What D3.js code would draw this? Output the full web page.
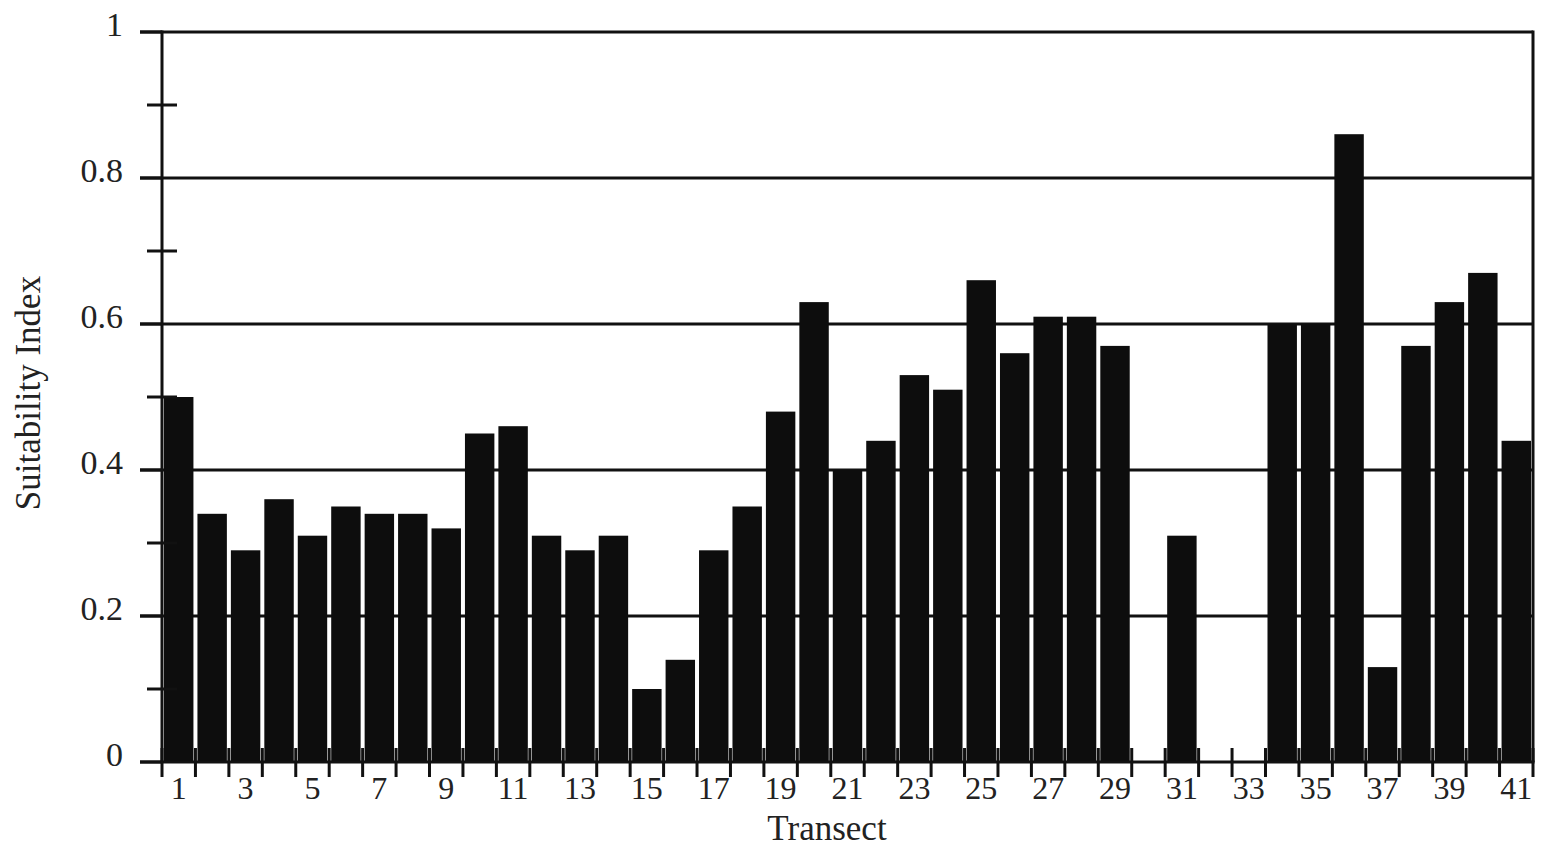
<!DOCTYPE html>
<html>
<head>
<meta charset="utf-8">
<script src="https://cdn.jsdelivr.net/npm/d3@7"></script>
<style>
    html, body { margin: 0; padding: 0; background: #fff; }
    #chart-container { width: 1543px; height: 853px; }
    text { font-family: "Liberation Serif", "Times New Roman", serif; fill: #222; }
</style>
</head>
<body>
<div id="chart-container"></div>
<script>
const transects = d3.range(1, 42);
const suitability = [
    0.50, 0.34, 0.29, 0.36, 0.31, 0.35, 0.34, 0.34, 0.32, 0.45,
    0.46, 0.31, 0.29, 0.31, 0.10, 0.14, 0.29, 0.35, 0.48, 0.63,
    0.40, 0.44, 0.53, 0.51, 0.66, 0.56, 0.61, 0.61, 0.57, 0,
    0.31, 0, 0, 0.60, 0.60, 0.86, 0.13, 0.57, 0.63, 0.67,
    0.44
];
const gridValues = [0.2, 0.4, 0.6, 0.8, 1];
const majorTicks = [0, 0.2, 0.4, 0.6, 0.8, 1];
const minorTicks = [0.1, 0.3, 0.5, 0.7, 0.9];

document.addEventListener('DOMContentLoaded', () => {
    const width = 1543;
    const height = 853;
    const left = 162, right = 1533, top = 32, bottom = 762;

    const data = transects.map((t, i) => ({ t, v: suitability[i] }));

    const svg = d3.select('#chart-container')
        .append('svg')
        .attr('width', width)
        .attr('height', height)
        .style('background-color', '#fff');

    const x = d3.scaleBand()
        .domain(transects)
        .range([left, right])
        .paddingInner(0.12)
        .paddingOuter(0.06);

    const y = d3.scaleLinear()
        .domain([0, 1])
        .range([bottom, top]);

    const lineColor = '#111';
    const lw = 3;

    // gridlines
    svg.append('g')
        .selectAll('line')
        .data(gridValues)
        .enter().append('line')
        .attr('x1', 140)
        .attr('x2', right)
        .attr('y1', d => y(d))
        .attr('y2', d => y(d))
        .attr('stroke', lineColor)
        .attr('stroke-width', lw);

    // bars
    svg.append('g')
        .selectAll('rect')
        .data(data)
        .enter().append('rect')
        .attr('x', d => x(d.t))
        .attr('y', d => y(d.v))
        .attr('width', x.bandwidth())
        .attr('height', d => y(0) - y(d.v))
        .attr('fill', '#0d0d0d');

    // axis frame
    svg.append('line')
        .attr('x1', left).attr('x2', left)
        .attr('y1', top - 1.5).attr('y2', bottom)
        .attr('stroke', lineColor).attr('stroke-width', lw);
    svg.append('line')
        .attr('x1', right).attr('x2', right)
        .attr('y1', top - 1.5).attr('y2', bottom)
        .attr('stroke', lineColor).attr('stroke-width', lw);
    svg.append('line')
        .attr('x1', 140).attr('x2', right + 1.5)
        .attr('y1', bottom).attr('y2', bottom)
        .attr('stroke', lineColor).attr('stroke-width', lw);

    // y ticks
    svg.append('g')
        .selectAll('line')
        .data(majorTicks)
        .enter().append('line')
        .attr('x1', 140).attr('x2', left)
        .attr('y1', d => y(d)).attr('y2', d => y(d))
        .attr('stroke', lineColor).attr('stroke-width', lw);

    svg.append('g')
        .selectAll('line')
        .data(minorTicks)
        .enter().append('line')
        .attr('x1', 147).attr('x2', 177)
        .attr('y1', d => y(d)).attr('y2', d => y(d))
        .attr('stroke', lineColor).attr('stroke-width', lw);

    svg.append('g')
        .selectAll('text')
        .data(majorTicks)
        .enter().append('text')
        .attr('x', 123)
        .attr('y', d => y(d) + 4)
        .attr('text-anchor', 'end')
        .style('font-size', '34px')
        .text(d => d === 0 ? '0' : d === 1 ? '1' : d3.format('.1f')(d));

    // x ticks at band boundaries
    const step = x.step();
    const bounds = d3.range(0, transects.length + 1).map(i => left + i * step);
    svg.append('g')
        .selectAll('line')
        .data(bounds)
        .enter().append('line')
        .attr('x1', d => d).attr('x2', d => d)
        .attr('y1', bottom - 14).attr('y2', bottom + 15)
        .attr('stroke', lineColor).attr('stroke-width', lw);

    svg.append('g')
        .selectAll('text')
        .data(transects.filter(t => t % 2 === 1))
        .enter().append('text')
        .attr('x', d => x(d) + x.bandwidth() / 2)
        .attr('y', 799)
        .attr('text-anchor', 'middle')
        .style('font-size', '32px')
        .text(d => d);

    // axis titles
    svg.append('text')
        .attr('x', 827)
        .attr('y', 840)
        .attr('text-anchor', 'middle')
        .style('font-size', '35px')
        .text('Transect');

    svg.append('text')
        .attr('transform', 'translate(40,393) rotate(-90)')
        .attr('text-anchor', 'middle')
        .style('font-size', '35px')
        .text('Suitability Index');
});
</script>
</body>
</html>
